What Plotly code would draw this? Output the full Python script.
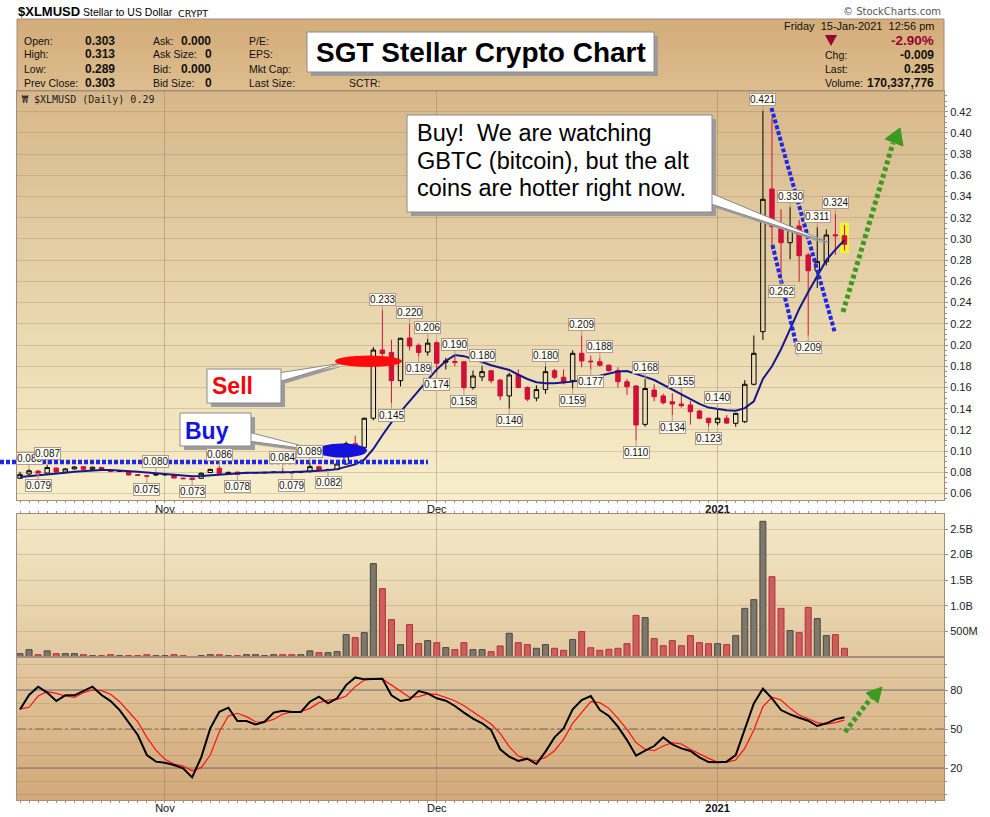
import plotly.graph_objects as go
import pandas as pd

# ---------------- DATA ----------------
dates = pd.date_range("2020-10-16", periods=92, freq="D")

opens = [0.0744, 0.0784, 0.0812, 0.0792, 0.0840, 0.0802, 0.0832, 0.0853, 0.0828, 0.0846,
         0.0814, 0.0814, 0.0806, 0.0778, 0.0768, 0.0779, 0.0779, 0.0770, 0.0745, 0.0745,
         0.0744, 0.0798, 0.0838, 0.0782, 0.0802, 0.0796, 0.0797, 0.0800, 0.0802, 0.0800,
         0.0797, 0.0800, 0.0806, 0.0853, 0.0826, 0.0826, 0.0878, 0.1070, 0.1035, 0.1310,
         0.1953, 0.1930, 0.1664, 0.2066, 0.1997, 0.1934, 0.2022, 0.1850, 0.1845, 0.1843,
         0.1600, 0.1700, 0.1758, 0.1670, 0.1520, 0.1718, 0.1600, 0.1500, 0.1580, 0.1758,
         0.1696, 0.1664, 0.1922, 0.1848, 0.1843, 0.1810, 0.1760, 0.1654, 0.1614, 0.1252,
         0.1576, 0.1520, 0.1465, 0.1444, 0.1435, 0.1378, 0.1310, 0.1268, 0.1310, 0.1262,
         0.1277, 0.1630, 0.2126, 0.3471, 0.3116, 0.2965, 0.3122, 0.2849, 0.2700, 0.2786,
         0.3040, 0.3030]
highs = [0.0805, 0.0830, 0.0820, 0.0870, 0.0845, 0.0840, 0.0858, 0.0858, 0.0855, 0.0850,
         0.0818, 0.0816, 0.0808, 0.0780, 0.0772, 0.0800, 0.0782, 0.0772, 0.0750, 0.0747,
         0.0800, 0.0833, 0.0860, 0.0805, 0.0805, 0.0800, 0.0800, 0.0803, 0.0805, 0.0840,
         0.0800, 0.0805, 0.0890, 0.0860, 0.0835, 0.0885, 0.1090, 0.1145, 0.1315, 0.1980,
         0.2330, 0.2050, 0.2068, 0.2200, 0.2015, 0.2060, 0.2035, 0.1880, 0.1900, 0.1850,
         0.1760, 0.1800, 0.1765, 0.1680, 0.1740, 0.1770, 0.1610, 0.1620, 0.1800, 0.1775,
         0.1770, 0.1950, 0.2090, 0.1900, 0.1880, 0.1815, 0.1790, 0.1680, 0.1620, 0.1680,
         0.1630, 0.1540, 0.1545, 0.1550, 0.1475, 0.1390, 0.1315, 0.1400, 0.1340, 0.1360,
         0.1670, 0.2090, 0.4210, 0.4140, 0.3280, 0.3300, 0.3180, 0.2870, 0.3110, 0.3090,
         0.3240, 0.3130]
lows = [0.0740, 0.0775, 0.0790, 0.0790, 0.0795, 0.0795, 0.0828, 0.0825, 0.0825, 0.0818,
        0.0800, 0.0806, 0.0772, 0.0765, 0.0750, 0.0770, 0.0768, 0.0744, 0.0735, 0.0730,
        0.0738, 0.0795, 0.0785, 0.0782, 0.0780, 0.0790, 0.0790, 0.0792, 0.0795, 0.0793,
        0.0790, 0.0793, 0.0800, 0.0815, 0.0820, 0.0820, 0.0870, 0.0985, 0.1010, 0.1290,
        0.1895, 0.1450, 0.1610, 0.1950, 0.1890, 0.1900, 0.1740, 0.1770, 0.1800, 0.1580,
        0.1580, 0.1660, 0.1640, 0.1480, 0.1400, 0.1590, 0.1470, 0.1470, 0.1540, 0.1680,
        0.1630, 0.1590, 0.1790, 0.1770, 0.1795, 0.1750, 0.1600, 0.1530, 0.1100, 0.1230,
        0.1470, 0.1440, 0.1340, 0.1410, 0.1250, 0.1300, 0.1230, 0.1245, 0.1255, 0.1230,
        0.1265, 0.1620, 0.2047, 0.2896, 0.2620, 0.2808, 0.2597, 0.2090, 0.2538, 0.2750,
        0.2850, 0.2890]
closes = [0.0781, 0.0815, 0.0792, 0.0845, 0.0802, 0.0832, 0.0850, 0.0828, 0.0848, 0.0822,
          0.0808, 0.0810, 0.0775, 0.0772, 0.0764, 0.0776, 0.0777, 0.0746, 0.0740, 0.0732,
          0.0791, 0.0828, 0.0790, 0.0800, 0.0780, 0.0794, 0.0795, 0.0796, 0.0800, 0.0797,
          0.0795, 0.0798, 0.0853, 0.0820, 0.0824, 0.0878, 0.1070, 0.1010, 0.1310, 0.1953,
          0.1920, 0.1664, 0.2064, 0.1990, 0.1930, 0.2018, 0.1828, 0.1840, 0.1835, 0.1600,
          0.1708, 0.1749, 0.1664, 0.1520, 0.1718, 0.1600, 0.1490, 0.1580, 0.1749, 0.1696,
          0.1645, 0.1922, 0.1850, 0.1843, 0.1810, 0.1758, 0.1654, 0.1607, 0.1246, 0.1590,
          0.1513, 0.1456, 0.1444, 0.1428, 0.1371, 0.1310, 0.1268, 0.1310, 0.1264, 0.1356,
          0.1630, 0.1922, 0.3374, 0.3116, 0.2965, 0.3116, 0.2842, 0.2700, 0.2786, 0.3037,
          0.3030, 0.2950]
volumes_m = [65, 143, 45, 120, 65, 65, 65, 45, 26, 26,
             45, 26, 26, 26, 45, 26, 26, 45, 26, 7,
             26, 45, 45, 26, 26, 45, 45, 26, 45, 45,
             45, 45, 120, 85, 85, 104, 437, 379, 476, 1824,
             1336, 730, 242, 633, 262, 320, 280, 184, 144, 280,
             144, 144, 104, 215, 463, 280, 242, 170, 242, 170,
             130, 340, 496, 180, 130, 150, 170, 260, 813, 770,
             360, 220, 320, 220, 417, 280, 260, 260, 242, 417,
             950, 1120, 2650, 1568, 950, 516, 476, 967, 750, 417,
             437, 170.337776]
ma_line = [0.0755, 0.0762, 0.0770, 0.0778, 0.0786, 0.0795, 0.0805, 0.0812, 0.0818, 0.0822,
           0.0822, 0.0818, 0.0812, 0.0805, 0.0798, 0.0790, 0.0782, 0.0774, 0.0767, 0.0762,
           0.0765, 0.0772, 0.0780, 0.0788, 0.0792, 0.0795, 0.0796, 0.0796, 0.0798, 0.0800,
           0.0802, 0.0806, 0.0810, 0.0815, 0.0820, 0.0830, 0.0850, 0.0875, 0.0920, 0.1020,
           0.1150, 0.1270, 0.1370, 0.1470, 0.1570, 0.1670, 0.1770, 0.1850, 0.1905, 0.1895,
           0.1870, 0.1840, 0.1810, 0.1785, 0.1765, 0.1720, 0.1680, 0.1650, 0.1640, 0.1640,
           0.1645, 0.1655, 0.1670, 0.1690, 0.1715, 0.1735, 0.1750, 0.1755, 0.1730, 0.1700,
           0.1670, 0.1625, 0.1575, 0.1530, 0.1485, 0.1445, 0.1410, 0.1395, 0.1385, 0.1380,
           0.1405, 0.1470, 0.1680, 0.1800, 0.1960, 0.2150, 0.2340, 0.2500, 0.2645, 0.2800,
           0.2900, 0.2990]
stoch_k = [65, 76.2, 82.6, 78, 71.5, 75.9, 75.9, 79.5, 82.6, 76.2,
           71.5, 64.6, 54.9, 45.4, 30, 24.9, 24.1, 22.3, 19.7, 12.8,
           28.2, 50.5, 63.3, 66.4, 56.2, 56.2, 53.6, 55.6, 62.6, 64.1,
           63.1, 63.1, 71, 74.9, 69.7, 73.6, 83.8, 89.7, 88.2, 88.2,
           88.7, 75.9, 71.5, 72.8, 79.2, 77.4, 73.6, 71.8, 67.7, 62.6,
           58, 54.4, 49.2, 34.4, 28.7, 25.4, 27.2, 23.1, 32.6, 43.6,
           50.5, 65.1, 72.3, 75.4, 64.6, 60, 51.8, 41.5, 29.5, 33.3,
           36.9, 43.6, 38.2, 35.1, 33.1, 28.2, 24.6, 24.4, 24.9, 30,
           49.2, 69.7, 81, 73.6, 64.6, 61.3, 58.7, 56.4, 52.3, 54.4,
           57.4, 59]
stoch_d = [65.5, 66.7, 75.4, 78.7, 77.4, 75.4, 74.4, 78, 80, 79.5,
           76.7, 71, 63.3, 55.6, 43.6, 33.8, 26.7, 23.1, 21.5, 17.9,
           20.3, 30, 47.9, 60, 62.1, 59.5, 55.6, 55.4, 57.4, 61.5,
           63.1, 63.3, 65.9, 70.3, 72.3, 72.8, 75.4, 82.6, 87.7, 88.5,
           88.5, 83.8, 78.7, 74.4, 74.9, 77, 76.7, 74.4, 71.8, 67.9,
           63.3, 58.2, 53.8, 46.7, 36.4, 29.2, 26.7, 25.6, 28.2, 33.3,
           42.1, 54.4, 62.6, 71, 70.3, 65.9, 58.2, 49.7, 39.5, 34.4,
           33.3, 36.9, 39.5, 38.5, 34.4, 30.8, 27.4, 24.6, 24.6, 26.2,
           35.1, 49.2, 67.2, 74.4, 72.3, 65.9, 60.8, 57.9, 54.9, 53.8,
           54.9, 56.9]
high_label_days = [1, 3, 15, 22, 29, 32, 40, 43, 45, 48, 51, 58, 62, 64, 69, 73, 77, 82, 85, 88, 90]
low_label_days = [2, 14, 19, 24, 30, 34, 41, 44, 46, 49, 54, 61, 63, 68, 72, 76, 84, 87]
month_ticks = ["2020-11-01", "2020-12-01", "2021-01-01"]
month_labels = ["Nov", "Dec", "<b>2021</b>"]
price_ticks = [0.06, 0.08, 0.10, 0.12, 0.14, 0.16, 0.18, 0.20, 0.22, 0.24,
               0.26, 0.28, 0.30, 0.32, 0.34, 0.36, 0.38, 0.40, 0.42]
vol_ticks = [5e8, 1e9, 1.5e9, 2e9, 2.5e9]
vol_tick_labels = ["500M", "1.0B", "1.5B", "2.0B", "2.5B"]
stoch_ticks = [20, 50, 80]

# ---------------- GEOMETRY HELPERS ----------------
W, H = 990, 817
LEFT, RIGHT = 17, 944
P_TOP, P_BOT = 91, 500
V_TOP, V_BOT = 514, 657
S_TOP, S_BOT = 657, 800
FONT = "Liberation Sans, Arial, sans-serif"
BORDER = "#A58C7C"


def px(x):
    return x / W


def py(y):
    return 1 - y / H


def pts(points):
    return "M " + " L ".join(f"{px(x)},{py(y)}" for x, y in points) + " Z"


shapes = []


def bands(x0, x1, y0, y1, c0, c1, n):
    for k in range(n):
        t = k / (n - 1)
        c = tuple(round(c0[j] + (c1[j] - c0[j]) * t) for j in range(3))
        ya = y0 + (y1 - y0) * k / n
        yb = min(y1, y0 + (y1 - y0) * (k + 1) / n + 0.8)
        shapes.append(dict(type="rect", xref="paper", yref="paper", x0=px(x0), x1=px(x1),
                           y0=py(yb), y1=py(ya), fillcolor=f"rgb{c}", line=dict(width=0),
                           layer="below"))


# backgrounds
bands(LEFT, RIGHT, 19, P_TOP, (211, 172, 121), (221, 189, 142), 12)
bands(LEFT, RIGHT, P_TOP, P_BOT, (215, 184, 139), (247, 239, 203), 60)
bands(LEFT, RIGHT, V_TOP, S_BOT, (243, 233, 199), (210, 169, 122), 45)
shapes.append(dict(type="rect", xref="paper", yref="paper", x0=px(LEFT), x1=px(RIGHT),
                   y0=py(P_TOP), y1=py(19), line=dict(color=BORDER, width=1), layer="below"))

# yellow highlight of last bar
shapes.append(dict(type="rect", xref="x", yref="y", x0=dates[-1] - pd.Timedelta(hours=12),
                   x1=dates[-1] + pd.Timedelta(hours=12), y0=lows[-1] - 0.0025, y1=highs[-1] + 0.0025,
                   fillcolor="#F4F238", line=dict(width=0), layer="below"))

# stochastic reference levels
for lvl, dash, col in [(80, "solid", "#6E7180"), (20, "solid", "#6E7180"), (50, "dashdot", "#6F6A66")]:
    shapes.append(dict(type="line", xref="paper", yref="y3", x0=px(LEFT), x1=px(RIGHT), y0=lvl, y1=lvl,
                       line=dict(color=col, width=1.2, dash=dash), layer="below"))

BLUE = "#1E28E6"
GREEN = "#3C9A20"
# blue dotted lines
shapes.append(dict(type="line", xref="paper", yref="paper", x0=px(0), x1=px(428), y0=py(462), y1=py(462),
                   line=dict(color=BLUE, width=4.5, dash="4px,2px")))
shapes.append(dict(type="line", xref="paper", yref="paper", x0=px(771.5), x1=px(835), y0=py(108), y1=py(333),
                   line=dict(color=BLUE, width=4, dash="4px,2px")))
shapes.append(dict(type="line", xref="paper", yref="paper", x0=px(772.5), x1=px(799), y0=py(245), y1=py(356),
                   line=dict(color=BLUE, width=4, dash="4px,2px")))
# green dotted arrows
shapes.append(dict(type="line", xref="paper", yref="paper", x0=px(843), x1=px(893), y0=py(312), y1=py(143),
                   line=dict(color=GREEN, width=5, dash="4px,3px")))
shapes.append(dict(type="path", xref="paper", yref="paper", path=pts([(900, 128), (885, 139), (903, 146)]),
                   fillcolor=GREEN, line=dict(color=GREEN, width=1)))
shapes.append(dict(type="line", xref="paper", yref="paper", x0=px(845), x1=px(871), y0=py(732), y1=py(698),
                   line=dict(color=GREEN, width=5, dash="4px,3px")))
shapes.append(dict(type="path", xref="paper", yref="paper", path=pts([(882, 687), (866, 693), (878, 703)]),
                   fillcolor=GREEN, line=dict(color=GREEN, width=1)))


def callout_box(x0, y0, x1, y1, wedge=None):
    if wedge:
        shapes.append(dict(type="path", xref="paper", yref="paper",
                           path=pts([(x + 2, y + 3) for x, y in wedge]),
                           fillcolor="#9C9C9C", line=dict(width=0)))
    shapes.append(dict(type="rect", xref="paper", yref="paper", x0=px(x0 + 4), x1=px(x1 + 4),
                       y0=py(y1 + 4), y1=py(y0 + 4), fillcolor="#9C9C9C", line=dict(width=0)))
    if wedge:
        shapes.append(dict(type="path", xref="paper", yref="paper", path=pts(wedge),
                           fillcolor="#FFFFFF", line=dict(color="#8A8A8A", width=1)))
    shapes.append(dict(type="rect", xref="paper", yref="paper", x0=px(x0), x1=px(x1),
                       y0=py(y1), y1=py(y0), fillcolor="#FFFFFF", line=dict(color="#8A8A8A", width=1)))


callout_box(307, 32, 654, 72)
callout_box(407, 115, 712, 212, wedge=[(708, 192), (708, 203), (830, 243)])
callout_box(207, 369, 281, 403, wedge=[(278, 373), (278, 382), (342, 363)])
callout_box(180, 413, 251, 446, wedge=[(248, 432), (248, 441), (322, 451)])

# ellipses
shapes.append(dict(type="circle", xref="paper", yref="paper", x0=px(335), x1=px(402), y0=py(367), y1=py(355.5),
                   fillcolor="#FF0A0A", line=dict(width=0)))
shapes.append(dict(type="circle", xref="paper", yref="paper", x0=px(317), x1=px(367), y0=py(457.5), y1=py(443.5),
                   fillcolor="#1212DC", line=dict(width=0)))
# header down triangle
shapes.append(dict(type="path", xref="paper", yref="paper", path=pts([(825, 35), (837, 35), (831, 46)]),
                   fillcolor="#990033", line=dict(width=0)))

# ---------------- TRACES ----------------
n = len(closes)
prev = [None] + closes[:-1]
black_fill = [i for i in range(n) if prev[i] is not None and closes[i] < opens[i] and closes[i] > prev[i]]
main = [i for i in range(n) if i not in black_fill]
RED = "#D0103A"


def sub(arr, idx):
    return [arr[i] for i in idx]


fig = go.Figure()
fig.add_trace(go.Candlestick(
    x=sub(dates, main), open=sub(opens, main), high=sub(highs, main), low=sub(lows, main),
    close=sub(closes, main), xaxis="x", yaxis="y", whiskerwidth=0,
    increasing=dict(line=dict(color="#000000", width=1), fillcolor="rgba(0,0,0,0)"),
    decreasing=dict(line=dict(color=RED, width=1), fillcolor=RED), showlegend=False))
fig.add_trace(go.Candlestick(
    x=sub(dates, black_fill), open=sub(opens, black_fill), high=sub(highs, black_fill),
    low=sub(lows, black_fill), close=sub(closes, black_fill), xaxis="x", yaxis="y", whiskerwidth=0,
    increasing=dict(line=dict(color="#000000", width=1), fillcolor="#000000"),
    decreasing=dict(line=dict(color="#000000", width=1), fillcolor="#000000"), showlegend=False))
fig.add_trace(go.Scatter(x=dates, y=ma_line, mode="lines", xaxis="x", yaxis="y",
                         line=dict(color="#17178C", width=2), showlegend=False))

up_day = [closes[i] > (prev[i] if prev[i] is not None else opens[i]) for i in range(n)]
fig.add_trace(go.Bar(
    x=dates, y=[v * 1e6 for v in volumes_m], xaxis="x2", yaxis="y2", width=0.66 * 86400000,
    marker=dict(color=["#7E776C" if u else "#CC5E5E" for u in up_day],
                line=dict(color=["#4A4640" if u else "#B2303A" for u in up_day], width=1)),
    showlegend=False))
fig.add_trace(go.Scatter(x=dates, y=stoch_d, mode="lines", xaxis="x3", yaxis="y3",
                         line=dict(color="#FF1010", width=1.2), showlegend=False))
fig.add_trace(go.Scatter(x=dates, y=stoch_k, mode="lines", xaxis="x3", yaxis="y3",
                         line=dict(color="#000000", width=2), showlegend=False))

# ---------------- ANNOTATIONS ----------------
ann = []


def txt(x, y, s, size=11, color="#111111", bold=False, anchor="left", family=FONT):
    ann.append(dict(x=px(x), y=py(y), xref="paper", yref="paper", text=(f"<b>{s}</b>" if bold else s),
                    showarrow=False, xanchor=anchor, yanchor="middle",
                    font=dict(size=size, color=color, family=family)))


# top line
txt(16, 12, "$XLMUSD", 13, "#000", True)
txt(81, 12.5, "Stellar to US Dollar", 10.5, "#000")
txt(176, 13, "CRYPT", 9.5, "#000", family="DejaVu Sans, sans-serif")
txt(943, 12, "© StockCharts.com", 10, "#555", anchor="right", family="DejaVu Sans, sans-serif")
# header grid
rows = [40.7, 54.5, 69.3, 83.5]
for r, (lab, val) in enumerate([("Open:", "0.303"), ("High:", "0.313"), ("Low:", "0.289"), ("Prev Close:", "0.303")]):
    txt(21.5, rows[r], lab, 10.5)
    txt(82.5, rows[r], val, 12, bold=True)
for r, (lab, val, vx) in enumerate([("Ask:", "0.000", 178.5), ("Ask Size:", "0", 203), ("Bid:", "0.000", 178.5),
                                    ("Bid Size:", "0", 203)]):
    txt(150.5, rows[r], lab, 10.5)
    txt(vx, rows[r], val, 12, bold=True)
for r, lab in enumerate(["P/E:", "EPS:", "Mkt Cap:", "Last Size:"]):
    txt(246.5, rows[r], lab, 10.5)
txt(346.5, rows[3], "SCTR:", 10.5)
txt(936, 26, "Friday&nbsp; 15-Jan-2021&nbsp; 12:56 pm", 11, anchor="right")
txt(936, 40.5, "-2.90%", 13.5, "#990033", True, anchor="right")
txt(822.5, 55, "Chg:", 10.5)
txt(936, 55, "-0.009", 12, bold=True, anchor="right")
txt(822.5, 69.3, "Last:", 10.5)
txt(936, 69.3, "0.295", 12, bold=True, anchor="right")
txt(822.5, 83.5, "Volume:", 10.5)
txt(936, 83.5, "170,337,776", 12, bold=True, anchor="right")
# legend row
txt(20, 99.5, "₩ $XLMUSD (Daily) 0.29", 10, "#222", family="DejaVu Sans Mono, monospace")

# high / low value labels
for i in high_label_days:
    ann.append(dict(x=dates[i], y=highs[i], xref="x", yref="y", text=f"{highs[i]:.3f}",
                    showarrow=True, arrowhead=0, arrowwidth=1, arrowcolor="#B49A88", ax=0, ay=-11,
                    standoff=0, bgcolor="#FFFDF5", bordercolor="#B49A88", borderwidth=1, borderpad=0,
                    font=dict(size=10, color="#111", family=FONT)))
for i in low_label_days:
    ann.append(dict(x=dates[i], y=lows[i], xref="x", yref="y", text=f"{lows[i]:.3f}",
                    showarrow=True, arrowhead=0, arrowwidth=1, arrowcolor="#B49A88", ax=0, ay=12,
                    standoff=0, bgcolor="#FFFDF5", bordercolor="#B49A88", borderwidth=1, borderpad=0,
                    font=dict(size=10, color="#111", family=FONT)))

# callout texts
txt(480.5, 52, "SGT Stellar Crypto Chart", 28, "#000", True, anchor="center")
txt(415, 133, "Buy!&nbsp; We are watching", 23.5, "#000")
txt(415, 160.5, "GBTC (bitcoin), but the alt", 23.5, "#000")
txt(415, 187.5, "coins are hotter right now.", 23.5, "#000")
txt(210, 386, "Sell", 23, "#FF0000", True)
txt(183, 430.5, "Buy", 23, "#1414E0", True)

# ---------------- LAYOUT ----------------
xr = ["2020-10-15 16:03", "2021-01-25 23:45"]
GRID = "rgba(150,120,85,0.28)"
VGRID = "rgba(140,110,80,0.38)"
xcommon = dict(type="date", range=xr, domain=[px(LEFT), px(RIGHT)], showgrid=True, gridcolor=VGRID,
               tickvals=month_ticks, ticktext=month_labels, ticks="outside", ticklen=2, tickcolor=BORDER,
               minor=dict(ticks="outside", ticklen=2, dtick=86400000, tickcolor=BORDER),
               showline=True, linecolor=BORDER, linewidth=1, mirror=True, zeroline=False,
               tickfont=dict(size=11, color="#111", family=FONT), fixedrange=True)
ycommon = dict(side="right", showline=True, linecolor=BORDER, linewidth=1, mirror=True, zeroline=False,
               ticks="outside", ticklen=3, tickcolor=BORDER, gridcolor=GRID,
               tickfont=dict(size=11, color="#222", family=FONT), fixedrange=True)

fig.update_layout(
    width=W, height=H, autosize=False,
    margin=dict(l=0, r=0, t=0, b=0, pad=0),
    paper_bgcolor="#FFFFFF", plot_bgcolor="rgba(0,0,0,0)",
    showlegend=False, hovermode=False, boxgap=0.3,
    xaxis=dict(xcommon, anchor="y", rangeslider=dict(visible=False), ticklabelstandoff=-3),
    xaxis2=dict(xcommon, anchor="y2", matches="x", side="top", showticklabels=False),
    xaxis3=dict(xcommon, anchor="y3", matches="x", ticklabelstandoff=-4),
    yaxis=dict(ycommon, domain=[py(P_BOT), py(P_TOP)], range=[0.0539, 0.4395], anchor="x",
               tickvals=price_ticks, ticktext=[f"{v:.2f}" for v in price_ticks], showgrid=True,
               minor=dict(ticks="outside", ticklen=2, dtick=0.005, tickcolor=BORDER)),
    yaxis2=dict(ycommon, domain=[py(V_BOT), py(V_TOP)], range=[0, 2.793e9], anchor="x2",
                tickvals=vol_ticks, ticktext=vol_tick_labels, showgrid=True),
    yaxis3=dict(ycommon, domain=[py(S_BOT), py(S_TOP)], range=[-4.6, 105.4], anchor="x3",
                tickvals=stoch_ticks, ticktext=[str(v) for v in stoch_ticks], showgrid=False,
                minor=dict(showgrid=True, gridcolor=GRID, dtick=10, tick0=0, ticks="outside",
                           ticklen=2, tickcolor=BORDER)),
    shapes=shapes,
    annotations=ann,
)

fig.write_html("out.html", config={"displayModeBar": False},
               post_script="document.body.style.margin='0';document.body.style.overflow='hidden';")
